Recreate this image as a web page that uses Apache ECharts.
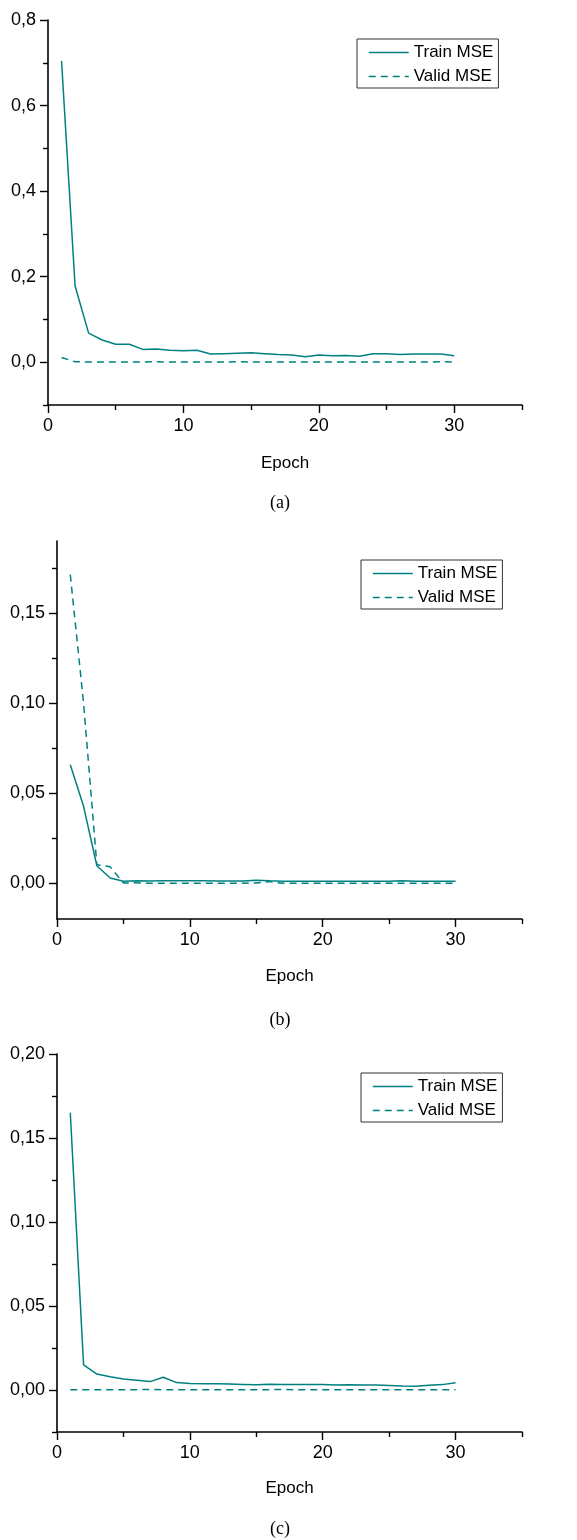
<!DOCTYPE html>
<html>
<head>
<meta charset="utf-8">
<script src="https://cdn.jsdelivr.net/npm/echarts@6/dist/echarts.min.js"></script>
<style>
html,body{margin:0;padding:0;background:#fff;}
#chart{width:577px;height:1540px;}
</style>
</head>
<body>
<div id="chart"></div>
<script>
// ---------- data ----------
var epochs = [1,2,3,4,5,6,7,8,9,10,11,12,13,14,15,16,17,18,19,20,21,22,23,24,25,26,27,28,29,30];

var trainA = [0.704,0.178,0.068,0.052,0.042,0.042,0.030,0.031,0.028,0.027,0.028,0.019,0.020,0.021,0.022,0.020,0.018,0.017,0.013,0.017,0.015,0.016,0.014,0.020,0.020,0.018,0.019,0.019,0.019,0.015];
var validA = [0.011,0.001,0.0005,0.0005,0.0005,0.0005,0.0005,0.001,0.0005,0.0005,0.0005,0.0005,0.0005,0.001,0.0005,0.0005,0.0005,0.0005,0.0005,0.0005,0.0005,0.0005,0.0005,0.0005,0.0005,0.0005,0.0005,0.0005,0.001,0.0005];

var trainB = [0.0657,0.0426,0.0096,0.0028,0.0010,0.0012,0.0011,0.0012,0.0012,0.0012,0.0012,0.0011,0.0011,0.0011,0.0015,0.0012,0.0010,0.0010,0.0010,0.0010,0.0010,0.0010,0.0010,0.0010,0.0010,0.0012,0.0010,0.0010,0.0010,0.0010];
var validB = [0.1713,0.1000,0.0102,0.0090,0.0000,0.0001,-0.0002,-0.0002,-0.0002,-0.0002,-0.0002,-0.0001,-0.0001,-0.0001,0.0000,0.0008,-0.0002,-0.0002,-0.0002,-0.0001,-0.0001,-0.0001,-0.0002,-0.0002,-0.0001,-0.0001,-0.0002,-0.0002,-0.0002,-0.0001];

var trainC = [0.165,0.0149,0.0095,0.0079,0.0065,0.0058,0.0050,0.0076,0.0044,0.0038,0.0037,0.0037,0.0035,0.0033,0.0031,0.0034,0.0033,0.0032,0.0032,0.0032,0.0030,0.0031,0.0030,0.0030,0.0027,0.0024,0.0023,0.0029,0.0032,0.0043];
var validC = [0.0002,0.0002,0.0002,0.0002,0.0002,0.0002,0.0003,0.0002,0.0002,0.0002,0.0002,0.0001,0.0002,0.0002,0.0002,0.0002,0.0003,0.0002,0.0002,0.0002,0.0002,0.0002,0.0002,0.0001,0.0002,0.0002,0.0002,0.0002,0.0002,0.0002];

var xMajorTicks = [0,10,20,30];
var xMinorTicks = [5,15,25,35];
var yMajorA = [0,0.2,0.4,0.6,0.8];
var yMinorA = [-0.1,0.1,0.3,0.5,0.7];
var yMajorB = [0,0.05,0.10,0.15];
var yMinorB = [0.025,0.075,0.125,0.175];
var yMajorC = [0,0.05,0.10,0.15,0.20];
var yMinorC = [-0.025,0.025,0.075,0.125,0.175];

var seriesNames = ['Train MSE','Valid MSE'];
var xName = 'Epoch';
var captions = ['(a)','(b)','(c)'];

// ---------- styling / layout ----------
var COLOR = '#008080';
var FONT = '"Liberation Sans", Arial, sans-serif';

var panels = [
  {grid:{left:48, top:20, width:474, height:385}, ymin:-0.1, ymax:0.8, ymaj:yMajorA, ymin2:yMinorA, dec:1,
   train:trainA, valid:validA, legend:{left:357, top:39}, cap:{x:280, y:503}, nameGap:50},
  {grid:{left:57, top:541, width:465, height:378}, ymin:-0.02, ymax:0.19, ymaj:yMajorB, ymin2:yMinorB, dec:2,
   train:trainB, valid:validB, legend:{left:361, top:560}, cap:{x:280, y:1020}, nameGap:49},
  {grid:{left:57, top:1054, width:465, height:378}, ymin:-0.025, ymax:0.2, ymaj:yMajorC, ymin2:yMinorC, dec:2,
   train:trainC, valid:validC, legend:{left:361, top:1073}, cap:{x:280, y:1529}, nameGap:48}
];

function pairs(ys){ return epochs.map(function(e,i){ return [e, ys[i]]; }); }

var grids=[], xAxes=[], yAxes=[], series=[], legends=[], graphics=[];
panels.forEach(function(p, i){
  grids.push(Object.assign({containLabel:false}, p.grid));
  var dec = p.dec;
  xAxes.push({
    gridIndex:i, type:'value', min:0, max:35, position:'bottom',
    axisLine:{show:true, onZero:false, lineStyle:{color:'#000', width:1.6}},
    axisTick:{show:true, inside:false, length:8, customValues:xMajorTicks, lineStyle:{color:'#000', width:1.4}},
    axisLabel:{show:true, customValues:xMajorTicks, fontSize:18, fontFamily:FONT, color:'#000', margin:12},
    splitLine:{show:false},
    name:xName, nameLocation:'middle', nameGap:p.nameGap,
    nameTextStyle:{fontSize:17, fontFamily:FONT, color:'#000'}
  });
  xAxes.push({
    gridIndex:i, type:'value', min:0, max:35, position:'bottom',
    axisLine:{show:false, onZero:false},
    axisTick:{show:true, inside:false, length:5, customValues:xMinorTicks, lineStyle:{color:'#000', width:1.4}},
    axisLabel:{show:false}, splitLine:{show:false}
  });
  yAxes.push({
    gridIndex:i, type:'value', min:p.ymin, max:p.ymax, position:'left',
    axisLine:{show:true, onZero:false, lineStyle:{color:'#000', width:1.6}},
    axisTick:{show:true, inside:false, length:8, customValues:p.ymaj, lineStyle:{color:'#000', width:1.4}},
    axisLabel:{show:true, customValues:p.ymaj, fontSize:18, fontFamily:FONT, color:'#000', margin:12,
      formatter:function(v){ return Number(v).toFixed(dec).replace('.', ','); }},
    splitLine:{show:false}
  });
  yAxes.push({
    gridIndex:i, type:'value', min:p.ymin, max:p.ymax, position:'left', offset:0,
    axisLine:{show:false, onZero:false},
    axisTick:{show:true, inside:false, length:5, customValues:p.ymin2, lineStyle:{color:'#000', width:1.4}},
    axisLabel:{show:false}, splitLine:{show:false}
  });
  series.push({
    name:seriesNames[0], type:'line', xAxisIndex:2*i, yAxisIndex:2*i,
    data:pairs(p.train), symbol:'none', showSymbol:false, smooth:false,
    lineStyle:{color:COLOR, width:1.5, type:'solid'}, itemStyle:{color:COLOR}, z:3
  });
  series.push({
    name:seriesNames[1], type:'line', xAxisIndex:2*i, yAxisIndex:2*i,
    data:pairs(p.valid), symbol:'none', showSymbol:false, smooth:false,
    lineStyle:{color:COLOR, width:1.5, type:[7,5]}, itemStyle:{color:COLOR}, z:2
  });
  legends.push({
    data:seriesNames, orient:'vertical', left:p.legend.left, top:p.legend.top,
    borderColor:'#333', borderWidth:1, padding:[5,5,3,11], itemGap:7,
    itemWidth:40, itemHeight:14, selectedMode:false,
    itemStyle:{color:'rgba(0,0,0,0)', borderColor:'rgba(0,0,0,0)', borderWidth:0, opacity:0},
    lineStyle:{color:COLOR, width:1.5},
    textStyle:{fontSize:17, fontFamily:FONT, color:'#000'}
  });
  graphics.push({
    type:'text', x:p.cap.x, y:p.cap.y,
    style:{text:captions[i], font:'18px "Liberation Serif", "Times New Roman", serif', fill:'#000',
      align:'center', verticalAlign:'middle', textAlign:'center', textVerticalAlign:'middle'}
  });
});

var chart = echarts.init(document.getElementById('chart'), null, {renderer:'canvas'});
chart.setOption({
  animation:false,
  backgroundColor:'#fff',
  grid:grids, xAxis:xAxes, yAxis:yAxes, series:series, legend:legends, graphic:graphics
});
</script>
</body>
</html>
